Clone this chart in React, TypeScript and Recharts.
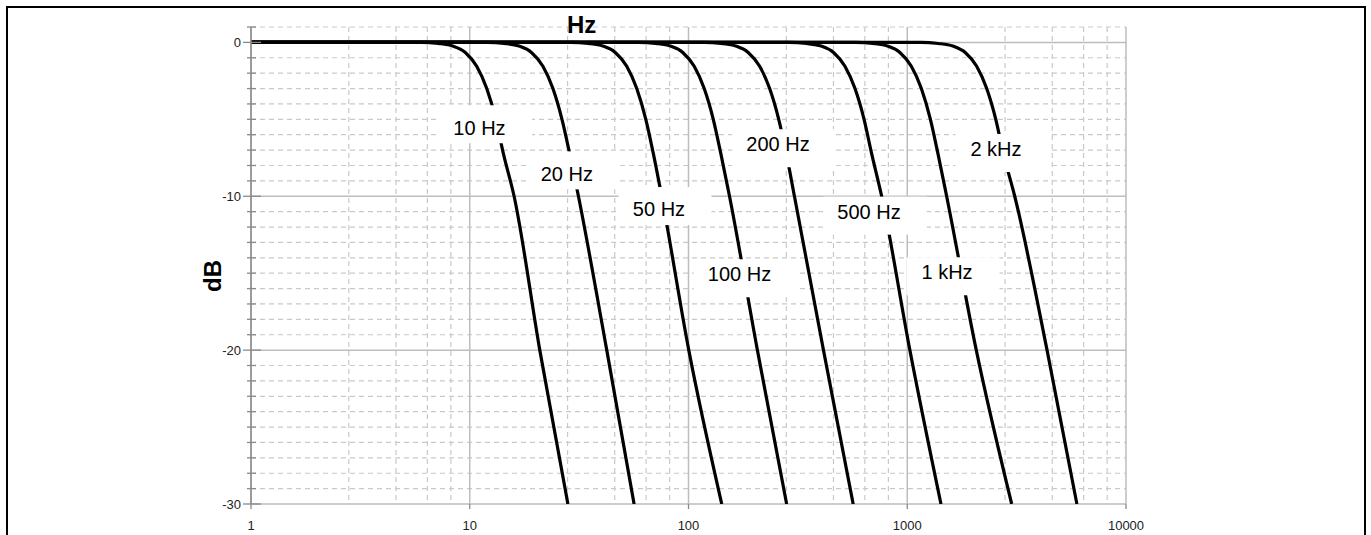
import { LineChart, Line, XAxis, YAxis, CartesianGrid, ReferenceDot } from 'recharts';

type Pt = { f: number; db: number };

// [frequency in Hz, level in dB]
const pts = (rows: number[][]): Pt[] => rows.map(([f, db]) => ({ f, db }));

const CURVE_10HZ = pts([[1, 0], [5.98, 0], [7.18, -0.07], [8.37, -0.24], [9.57, -0.67], [10.76, -1.55], [11.96, -3], [13.16, -5], [14.23, -7.2], [15.95, -10], [20.9, -20], [28.1, -30]]);
const CURVE_20HZ = pts([[1, 0], [12, 0], [14.4, -0.07], [16.8, -0.24], [19.2, -0.67], [21.6, -1.55], [24, -3], [26.4, -5], [28.6, -7.2], [31.4, -10], [42.3, -20], [56.4, -30]]);
const CURVE_50HZ = pts([[1, 0], [29, 0], [34.8, -0.07], [40.6, -0.24], [46.4, -0.67], [52.2, -1.55], [58, -3], [63.8, -5], [69, -7.2], [75.4, -10], [100.3, -20], [141.9, -30]]);
const CURVE_100HZ = pts([[1, 0], [59, 0], [70.8, -0.07], [82.6, -0.24], [94.4, -0.67], [106.2, -1.55], [118, -3], [129.8, -5], [140.4, -7.2], [154, -10], [206.5, -20], [281, -30]]);
const CURVE_200HZ = pts([[1, 0], [117.5, 0], [141, -0.07], [164.5, -0.24], [188, -0.67], [211.5, -1.55], [235, -3], [258.5, -5], [279.7, -7.2], [305, -10], [414, -20], [566, -30]]);
const CURVE_500HZ = pts([[1, 0], [288.5, 0], [346, -0.07], [404, -0.24], [461.6, -0.67], [519, -1.55], [577, -3], [634.7, -5], [686.6, -7.2], [764, -10], [1028, -20], [1426, -30]]);
const CURVE_1KHZ = pts([[1, 0], [580, 0], [696, -0.07], [812, -0.24], [928, -0.67], [1044, -1.55], [1160, -3], [1276, -5], [1380, -7.2], [1514, -10], [2068, -20], [3002, -30]]);
const CURVE_2KHZ = pts([[1, 0], [1154, 0], [1385, -0.07], [1616, -0.24], [1846, -0.67], [2077, -1.55], [2308, -3], [2539, -5], [2747, -7.2], [3100, -10], [4356, -20], [5965, -30]]);

const CURVES = [CURVE_10HZ, CURVE_20HZ, CURVE_50HZ, CURVE_100HZ, CURVE_200HZ, CURVE_500HZ, CURVE_1KHZ, CURVE_2KHZ];

// curve names, anchored in data units (Hz, dB)
const LABELS = [
  { text: '10 Hz', f: 11.08, db: -5.58, shift: -4 },
  { text: '20 Hz', f: 27.8, db: -8.51, shift: -3 },
  { text: '50 Hz', f: 73.3, db: -10.83, shift: -3 },
  { text: '100 Hz', f: 171, db: -15.07, shift: 4 },
  { text: '200 Hz', f: 256.6, db: -6.62, shift: 4 },
  { text: '500 Hz', f: 668.6, db: -11.0, shift: 4 },
  { text: '1 kHz', f: 1520, db: -14.94, shift: 4 },
  { text: '2 kHz', f: 2545, db: -6.93, shift: 4 },
];

const FREQ_TICKS = [1, 10, 100, 1000, 10000];
const FREQ_MINOR = [2.8, 4.6, 6.4, 8.2, 28, 46, 64, 82, 280, 460, 640, 820, 2800, 4600, 6400, 8200];
const DB_TICKS = [1, 0, -1, -2, -3, -4, -5, -6, -7, -8, -9, -10, -11, -12, -13, -14, -15, -16, -17, -18, -19, -20, -21, -22, -23, -24, -25, -26, -27, -28, -29, -30];
const DB_MAJOR = [0, -10, -20, -30];
const DB_MINOR = DB_TICKS.filter((v) => v % 10 !== 0);

const FONT = '"Liberation Sans", Arial, Helvetica, sans-serif';

const YTick = (props: any) => {
  const { x, y, payload } = props;
  const major = payload.value % 10 === 0;
  return (
    <g>
      <line x1={major ? x - 8 : x - 4} x2={major ? x + 10 : x + 5} y1={y} y2={y} stroke="#8a8a8a" strokeWidth={1.3} />
      {major && (
        <text x={x - 10} y={y + 4.5} textAnchor="end" fontSize={13} fill="#222" fontFamily={FONT}>
          {payload.value}
        </text>
      )}
    </g>
  );
};

const XTick = (props: any) => {
  const { x, y, payload } = props;
  return (
    <g>
      <line x1={x} x2={x} y1={y} y2={y + 5} stroke="#8a8a8a" strokeWidth={1.3} />
      <text x={x} y={y + 25.5} textAnchor="middle" fontSize={13} fill="#222" fontFamily={FONT}>
        {payload.value}
      </text>
    </g>
  );
};

const LabelBox = ({ cx, cy, text, shift }: any) => {
  const w = text.length * 10.6;
  return (
    <g>
      <rect x={cx - w / 2 - 14} y={cy - 19 + shift} width={w + 40} height={38} fill="#fff" />
      <text x={cx} y={cy + 7.2} textAnchor="middle" fontSize={20} fill="#000" fontFamily={FONT}>
        {text}
      </text>
    </g>
  );
};

export default function App() {
  return (
    <div style={{ position: 'absolute', left: 0, top: 0, width: 1371, height: 535, overflow: 'hidden', background: '#fff', fontFamily: FONT }}>
      <div
        style={{
          position: 'absolute', left: 6, top: 6, width: 1360, height: 529, boxSizing: 'border-box',
          borderTop: '2px solid #000', borderLeft: '2px solid #000', borderRight: '2px solid #000',
        }}
      />
      <div style={{ position: 'absolute', left: 0, top: 0 }}>
        <LineChart width={1371} height={535} margin={{ top: 27, right: 245, bottom: 6, left: 191 }}>
          <CartesianGrid
            horizontalValues={DB_MINOR}
            verticalValues={FREQ_MINOR}
            stroke="#c9c9c9"
            strokeDasharray="5 4"
            strokeWidth={1.2}
          />
          <CartesianGrid
            horizontalValues={DB_MAJOR}
            verticalValues={FREQ_TICKS}
            stroke="#bdbdbd"
            strokeWidth={1.5}
          />
          <XAxis
            dataKey="f"
            type="number"
            scale="log"
            domain={[1, 10000]}
            ticks={FREQ_TICKS}
            interval={0}
            allowDataOverflow
            axisLine={false}
            tickLine={false}
            tickSize={0}
            tickMargin={0}
            height={25}
            tick={<XTick />}
          />
          <YAxis
            type="number"
            domain={[-30, 1]}
            ticks={DB_TICKS}
            interval={0}
            allowDataOverflow
            width={60}
            axisLine={{ stroke: '#8a8a8a', strokeWidth: 1.5 }}
            tickLine={false}
            tickSize={0}
            tickMargin={0}
            tick={<YTick />}
          />
          {CURVES.map((c, i) => (
            <Line
              key={i}
              data={c}
              dataKey="db"
              type="monotone"
              stroke="#000"
              strokeWidth={3.2}
              dot={false}
              activeDot={false}
              isAnimationActive={false}
            />
          ))}
          {LABELS.map((l) => (
            <ReferenceDot
              key={l.text}
              x={l.f}
              y={l.db}
              r={0}
              ifOverflow="visible"
              shape={(p: any) => <LabelBox cx={p.cx} cy={p.cy} text={l.text} shift={l.shift} />}
            />
          ))}
        </LineChart>
      </div>
      <svg style={{ position: 'absolute', left: 0, top: 0 }} width={1371} height={535} pointerEvents="none">
        <text x={581.7} y={32.9} textAnchor="middle" fontSize={24} fontWeight="bold" fill="#000" fontFamily={FONT}>
          Hz
        </text>
        <g transform="translate(212.5,276) rotate(-90)">
          <text x={0} y={8.6} textAnchor="middle" fontSize={24} fontWeight="bold" fill="#000" fontFamily={FONT}>
            dB
          </text>
        </g>
      </svg>
    </div>
  );
}
